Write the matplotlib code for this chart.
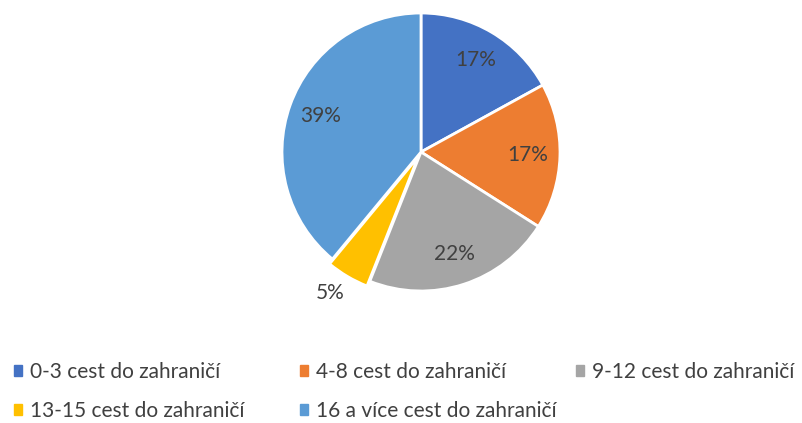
import matplotlib.pyplot as plt
from matplotlib.patches import Patch

# data
labels = ['0-3 cest do zahraničí', '4-8 cest do zahraničí', '9-12 cest do zahraničí',
          '13-15 cest do zahraničí', '16 a více cest do zahraničí']
values = [17, 17, 22, 5, 39]
colors = ['#4472C4', '#ED7D31', '#A5A5A5', '#FFC000', '#5B9BD5']

plt.rcParams['font.family'] = ['Lato', 'DejaVu Sans']
W, H = 803, 423
fig = plt.figure(figsize=(W / 100, H / 100), dpi=100)

# pie axes placed in pixel terms: centre (421, 152), radius 139
cx, cy, r = 421, 152, 139
k = 1.4
ax = fig.add_axes([(cx - r * k) / W, (H - cy - r * k) / H, 2 * r * k / W, 2 * r * k / H])

explode = [0, 0, 0, 0.04, 0]
wedges, texts, autotexts = ax.pie(values, colors=colors, startangle=90, counterclock=False,
                                  explode=explode, radius=1, autopct='%d%%', pctdistance=0.77,
                                  wedgeprops=dict(edgecolor='white', linewidth=2))
ax.set_xlim(-k, k)
ax.set_ylim(-k, k)
ax.axis('off')
for t in autotexts:
    t.set_color('#404040')
    t.set_fontsize(15)
# small slice label sits outside
autotexts[3].set_position((-0.655, -1.015))

# legend entries at their pixel positions
pos = [(14, 372), (300, 372), (576, 372), (14, 411), (300, 411)]
for lab, col, (px, py) in zip(labels, colors, pos):
    leg = fig.legend(handles=[Patch(color=col, label=lab)], loc='center left',
                     bbox_to_anchor=(px / W, 1 - py / H), frameon=False,
                     fontsize=15, handlelength=0.4, handleheight=0.4,
                     handletextpad=0.35, borderpad=0, borderaxespad=0)
    for t in leg.get_texts():
        t.set_color('#404040')

fig.savefig('out.png', dpi=100)
